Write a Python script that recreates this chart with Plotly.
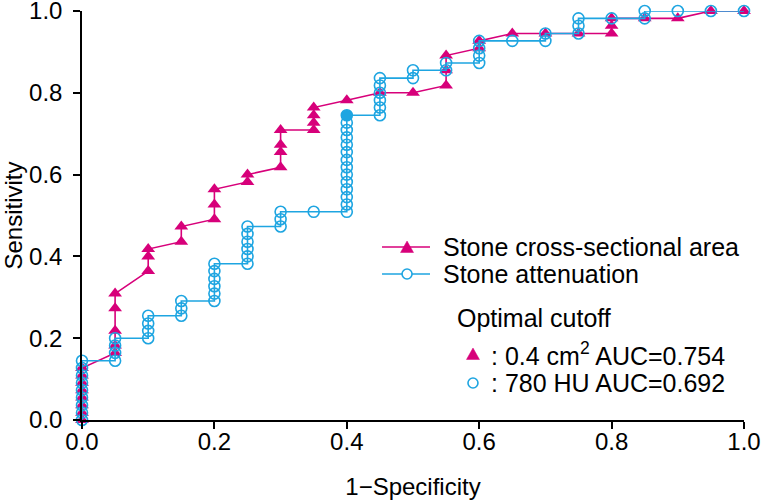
import plotly.graph_objects as go

# Stone cross-sectional area ROC points (1-Specificity, Sensitivity)
area_x = [0, 0, 0, 0, 0, 0, 0, 0,
          0.05, 0.05, 0.05, 0.05, 0.05,
          0.10, 0.10, 0.10,
          0.15, 0.15,
          0.20, 0.20, 0.20,
          0.25, 0.25,
          0.30, 0.30, 0.30, 0.30,
          0.35, 0.35, 0.35, 0.35,
          0.40,
          0.45,
          0.50,
          0.55, 0.55, 0.55,
          0.60, 0.60,
          0.65, 0.70, 0.75,
          0.80, 0.80, 0.80,
          0.85, 0.90, 0.95, 1.00]
area_y = [0.000, 0.018, 0.036, 0.055, 0.073, 0.091, 0.109, 0.127,
          0.164, 0.182, 0.218, 0.273, 0.309,
          0.364, 0.400, 0.418,
          0.436, 0.473,
          0.491, 0.527, 0.564,
          0.582, 0.600,
          0.618, 0.655, 0.673, 0.709,
          0.709, 0.727, 0.745, 0.764,
          0.782,
          0.800,
          0.800,
          0.818, 0.855, 0.891,
          0.909, 0.927,
          0.945, 0.945, 0.945,
          0.945, 0.964, 0.982,
          0.982, 0.982, 1.000, 1.000]

# Stone attenuation ROC points
atten_x = [0, 0, 0, 0, 0, 0, 0, 0, 0,
           0.05, 0.05, 0.05, 0.05,
           0.10, 0.10, 0.10, 0.10,
           0.15, 0.15, 0.15,
           0.20, 0.20, 0.20, 0.20, 0.20, 0.20,
           0.25, 0.25, 0.25, 0.25, 0.25, 0.25,
           0.30, 0.30, 0.30,
           0.35,
           0.40, 0.40, 0.40, 0.40, 0.40, 0.40, 0.40, 0.40, 0.40, 0.40, 0.40, 0.40, 0.40, 0.40,
           0.45, 0.45, 0.45, 0.45, 0.45, 0.45,
           0.50, 0.50,
           0.55, 0.55,
           0.60, 0.60, 0.60, 0.60,
           0.65,
           0.70, 0.70,
           0.75, 0.75, 0.75,
           0.80,
           0.85, 0.85,
           0.90, 0.95, 1.00]
atten_y = [0.000, 0.018, 0.036, 0.055, 0.073, 0.091, 0.109, 0.127, 0.145,
           0.145, 0.164, 0.182, 0.200,
           0.200, 0.218, 0.236, 0.255,
           0.255, 0.273, 0.291,
           0.291, 0.309, 0.327, 0.345, 0.364, 0.382,
           0.382, 0.400, 0.418, 0.436, 0.455, 0.473,
           0.473, 0.491, 0.509,
           0.509,
           0.509, 0.527, 0.545, 0.564, 0.582, 0.600, 0.618, 0.636, 0.655, 0.673, 0.691, 0.709, 0.727, 0.745,
           0.745, 0.764, 0.782, 0.800, 0.818, 0.836,
           0.836, 0.855,
           0.855, 0.873,
           0.873, 0.891, 0.909, 0.927,
           0.927,
           0.927, 0.945,
           0.945, 0.964, 0.982,
           0.982,
           0.982, 1.000,
           1.000, 1.000, 1.000]

# Optimal cutoff point (780 HU)
cut_atten_x = [0.40]
cut_atten_y = [0.745]

# stray marker under the origin tick label in the reference
stray_x = [0]
stray_y = [-0.04]

tick_vals = [0, 0.2, 0.4, 0.6, 0.8, 1.0]
tick_text = ["0.0", "0.2", "0.4", "0.6", "0.8", "1.0"]

series_names = ["Stone cross-sectional area", "Stone attenuation"]
cutoff_title = "Optimal cutoff"
cutoff_texts = [": 0.4 cm<sup>2</sup> AUC=0.754", ": 780 HU AUC=0.692"]

RED = "#D7007A"
BLUE = "#1EA5E1"
FONT = "Liberation Sans, Arial, sans-serif"
FS = 24

fig = go.Figure()
fig.add_trace(go.Scatter(
    x=area_x, y=area_y, mode="lines+markers", name=series_names[0], showlegend=False,
    line=dict(color=RED, width=1.6),
    marker=dict(symbol="triangle-up", size=12, color=RED),
    cliponaxis=False, hoverinfo="skip"))
fig.add_trace(go.Scatter(
    x=atten_x, y=atten_y, mode="lines+markers", name=series_names[1], showlegend=False,
    line=dict(color=BLUE, width=1.6),
    marker=dict(symbol="circle-open", size=11, color=BLUE, line=dict(width=1.6)),
    cliponaxis=False, hoverinfo="skip"))
fig.add_trace(go.Scatter(
    x=cut_atten_x, y=cut_atten_y, mode="markers", showlegend=False,
    marker=dict(symbol="circle", size=11, color=BLUE),
    cliponaxis=False, hoverinfo="skip"))

axis_common = dict(
    range=[0, 1], tickvals=tick_vals, ticktext=tick_text,
    showline=True, linecolor="black", linewidth=1.5,
    ticks="outside", ticklen=7, tickwidth=1.5, tickcolor="black",
    showgrid=False, zeroline=False, automargin=False, ticklabeloverflow="allow",
    tickfont=dict(family=FONT, size=FS, color="black"),
)
fig.update_xaxes(**axis_common, ticklabelstandoff=-8,
                 title=dict(text="1−Specificity", font=dict(family=FONT, size=FS, color="black"), standoff=25))
fig.update_yaxes(**axis_common, ticklabelstandoff=6,
                 title=dict(text="Sensitivity", font=dict(family=FONT, size=FS, color="black"), standoff=2))

# ---- legend drawn as shapes + text (paper coordinates) ----
leg_x0, leg_x1, leg_xm, leg_tx = 0.4532, 0.5257, 0.4910, 0.5430
leg_rows = [0.4230, 0.3570]
cut_xm, cut_tx = 0.5906, 0.6148
cut_rows = [0.1614, 0.0905]

tri_path = "M-6.5,-5.5L6.5,-5.5L0,6Z"
shapes = []
annotations = []
colors = [RED, BLUE]
for i, yy in enumerate(leg_rows):
    shapes.append(dict(type="line", xref="paper", yref="paper", x0=leg_x0, x1=leg_x1, y0=yy, y1=yy,
                       line=dict(color=colors[i], width=1.6)))
    annotations.append(dict(xref="paper", yref="paper", x=leg_tx, y=yy, xanchor="left", yanchor="middle",
                            text=series_names[i], showarrow=False,
                            font=dict(family=FONT, size=25, color="black")))
# legend markers
for (xm, yy) in [(leg_xm, leg_rows[0]), (cut_xm, cut_rows[0])]:
    shapes.append(dict(type="path", xref="paper", yref="paper", xsizemode="pixel", ysizemode="pixel",
                       xanchor=xm, yanchor=yy, path=tri_path,
                       fillcolor=RED, line=dict(color=RED, width=0.5)))
for (xm, yy) in [(leg_xm, leg_rows[1]), (cut_xm, cut_rows[1])]:
    shapes.append(dict(type="circle", xref="paper", yref="paper", xsizemode="pixel", ysizemode="pixel",
                       xanchor=xm, yanchor=yy, x0=-5, x1=5, y0=-5, y1=5,
                       fillcolor="white", line=dict(color=BLUE, width=1.6)))

annotations.append(dict(xref="paper", yref="paper", x=0.563, y=0.2494, xanchor="left", yanchor="middle",
                        text=cutoff_title, showarrow=False, font=dict(family=FONT, size=25, color="black")))
for i, yy in enumerate(cut_rows):
    annotations.append(dict(xref="paper", yref="paper", x=cut_tx, y=yy, xanchor="left", yanchor="middle",
                            text=cutoff_texts[i], showarrow=False,
                            font=dict(family=FONT, size=25, color="black")))
# stray black triangle drawn over the origin tick label
for sx, sy in zip(stray_x, stray_y):
    annotations.append(dict(xref="x", yref="y", x=sx, y=sy, xanchor="center", yanchor="middle",
                            text="▲", showarrow=False,
                            font=dict(family="DejaVu Sans", size=12, color="black")))

fig.update_layout(
    width=763, height=502,
    margin=dict(l=82, r=19, t=11, b=82),
    paper_bgcolor="white", plot_bgcolor="white",
    font=dict(family=FONT, size=FS, color="black"),
    showlegend=False,
    shapes=shapes,
    annotations=annotations,
)

fig.write_html("out.html", config={"displayModeBar": False},
               post_script="document.body.style.margin='0';")
